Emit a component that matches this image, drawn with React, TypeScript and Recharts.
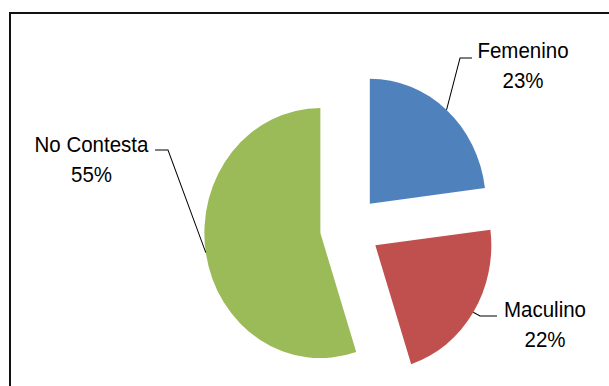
import React from 'react';
import { PieChart, Pie, Cell } from 'recharts';

const categories = ['Femenino', 'Maculino', 'No Contesta'];
const values = [23, 22, 55];
const percentLabels = ['23%', '22%', '55%'];
const colors = ['#4F81BD', '#C0504D', '#9BBB59'];

const W = 609;
const H = 386;
const SY = 1.078; // vertical stretch of the original picture
const CX = 350;
const CY = 228 / SY;
const R = 116;
const EXPLODE = 30;
const RAD = Math.PI / 180;
const FONT = '"Liberation Sans", Arial, sans-serif';
const FS = 20.5;

const data = categories.map((name, i) => ({ name, value: values[i] }));
const total = values.reduce((a, b) => a + b, 0);

const midAngles: number[] = [];
{
  let cum = 0;
  values.forEach((v) => {
    midAngles.push(90 - (360 * (cum + v / 2)) / total);
    cum += v;
  });
}
const offsets = midAngles.map((m) => ({ dx: EXPLODE * Math.cos(m * RAD), dy: -EXPLODE * Math.sin(m * RAD) }));

// label placement in screen pixels relative to the un-exploded pie centre (350,228)
const labelLayout = [
  { elbow: [110, -170], end: [122, -170], text: [173, -170] },
  { elbow: [130, 88], end: [147, 88], text: [195, 89] },
  { elbow: [-182, -78], end: [-195, -78], text: [-258.5, -76] },
];

const makeLabel = (owner: number) => (props: any) => {
  if (props.index !== owner) return null;
  const i = owner;
  const m = midAngles[i];
  const ox = CX + offsets[i].dx;
  const oy = CY + offsets[i].dy;
  const ax = ox + R * Math.cos(m * RAD);
  const ay = oy - R * Math.sin(m * RAD);
  const L = labelLayout[i];
  const ex = CX + L.elbow[0];
  const ey = CY + L.elbow[1] / SY;
  const fx = CX + L.end[0];
  const fy = CY + L.end[1] / SY;
  const tx = CX + L.text[0];
  const ty = CY + L.text[1] / SY;
  return (
    <g key={`lbl-${i}`}>
      <path d={`M${ax},${ay}L${ex},${ey}L${fx},${fy}`} stroke="#000" strokeWidth={1} fill="none" />
      <text x={tx} y={ty} textAnchor="middle" fontFamily={FONT} fontSize={FS} fill="#000">
        {categories[i]}
      </text>
      <text x={tx} y={ty + 30 / SY} textAnchor="middle" fontFamily={FONT} fontSize={FS} fill="#000">
        {percentLabels[i]}
      </text>
    </g>
  );
};

export default function App() {
  return (
    <div style={{ position: 'fixed', left: 0, top: 0, width: W, height: H, overflow: 'hidden', background: '#fff' }}>
      <div
        style={{
          position: 'absolute',
          left: 9,
          top: 12,
          width: 640,
          height: 420,
          border: '2px solid #111',
          boxSizing: 'border-box',
        }}
      />
      <div style={{ position: 'absolute', left: 0, top: 0, transform: `scale(1, ${SY})`, transformOrigin: '0 0' }}>
        <PieChart width={W} height={Math.round(H / SY)} margin={{ top: 0, right: 0, bottom: 0, left: 0 }}>
          {values.map((_, owner) => (
            <Pie
              key={owner}
              data={data}
              dataKey="value"
              nameKey="name"
              cx={CX + offsets[owner].dx}
              cy={CY + offsets[owner].dy}
              outerRadius={R}
              innerRadius={0}
              startAngle={90}
              endAngle={-270}
              stroke="none"
              isAnimationActive={false}
              labelLine={false}
              label={makeLabel(owner)}
            >
              {data.map((d, j) => (
                <Cell key={d.name} fill={j === owner ? colors[j] : 'transparent'} stroke="none" />
              ))}
            </Pie>
          ))}
        </PieChart>
      </div>
    </div>
  );
}
